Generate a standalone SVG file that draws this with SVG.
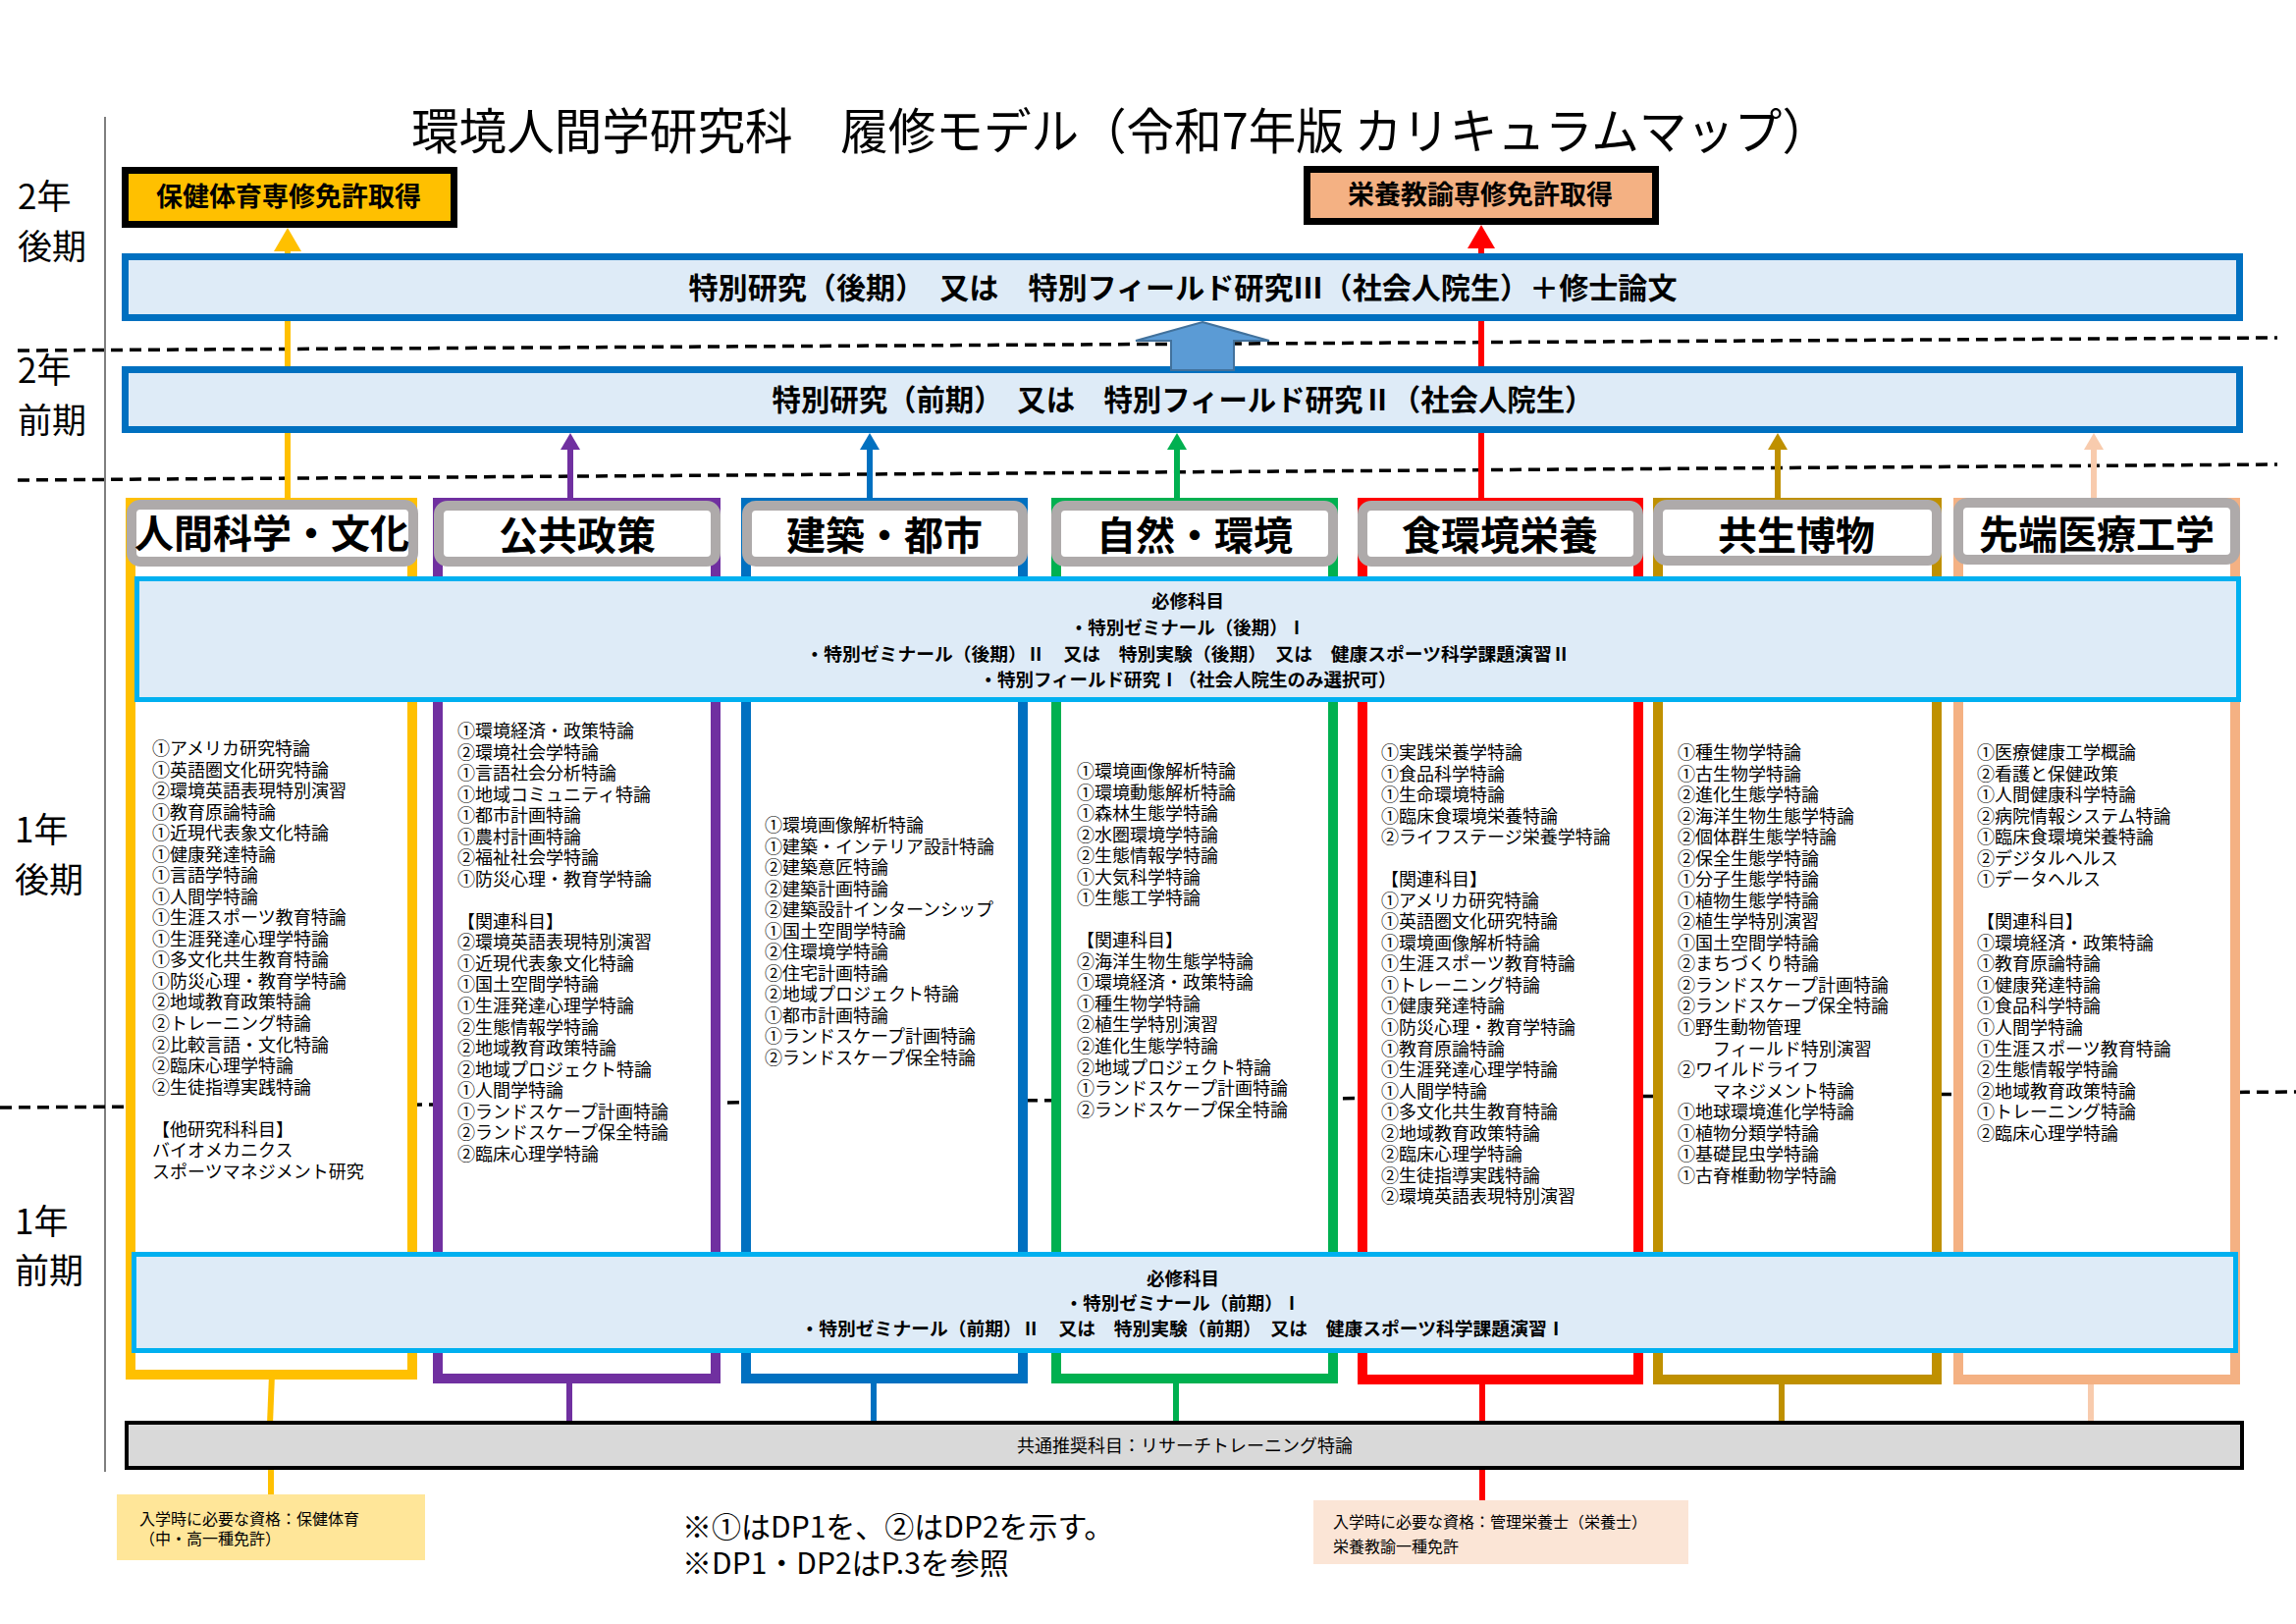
<svg xmlns="http://www.w3.org/2000/svg" width="2339" height="1654" viewBox="0 0 2339 1654">
<defs>
<style>
text{font-family:"Noto Sans CJK JP","Noto Sans CJK SC",sans-serif;fill:#000}
.col{font-size:18px}
.hdr{font-size:40px;font-weight:700;text-anchor:middle}
.bx{font-size:30px;font-weight:700;text-anchor:middle}
.lic{font-size:27px;font-weight:700;text-anchor:middle}
.req{font-size:18.5px;font-weight:700;text-anchor:middle}
.yr{font-size:35px}
.note{font-size:16px}
.dash{stroke:#000;stroke-width:3.5;stroke-dasharray:12 7;fill:none}
.colbox{fill:#fff;stroke-width:10}
.tab{fill:#fff;stroke:#AEAAAA;stroke-width:10}
.blue{fill:#DEEBF7;stroke:#0070C0;stroke-width:7}
.reqbox{fill:#DEEBF7;stroke:#00B0F0;stroke-width:5}
.ln{stroke-width:6;fill:none}
</style>
<path id="ahL" d="M0,0 L-14,24 L14,24 Z"/>
<path id="ahS" d="M0,0 L-10,17 L10,17 Z"/>
</defs>
<rect width="2339" height="1654" fill="#fff"/>

<g id="title">
<text x="419" y="152" font-size="50" textLength="1445" lengthAdjust="spacingAndGlyphs">環境人間学研究科　履修モデル（令和7年版 カリキュラムマップ）</text>
</g>

<g id="timeline">
<line x1="107" y1="119" x2="107" y2="1499" stroke="#7F7F7F" stroke-width="2"/>
<line class="dash" x1="18" y1="357" x2="2320" y2="344"/>
<line class="dash" x1="18" y1="489" x2="2320" y2="473"/>
<line class="dash" x1="0" y1="1128" x2="2339" y2="1112"/>
<text class="yr" x="18" y="213">2年</text>
<text class="yr" x="18" y="264">後期</text>
<text class="yr" x="18" y="390">2年</text>
<text class="yr" x="18" y="441">前期</text>
<text class="yr" x="15" y="858">1年</text>
<text class="yr" x="15" y="909">後期</text>
<text class="yr" x="15" y="1257">1年</text>
<text class="yr" x="15" y="1307">前期</text>
</g>

<g id="connectors">
<line class="ln" x1="293" y1="508" x2="293" y2="254" stroke="#FFC000"/>
<use href="#ahL" x="293" y="232" fill="#FFC000"/>
<line class="ln" x1="1509" y1="508" x2="1509" y2="252" stroke="#FF0000"/>
<use href="#ahL" x="1509" y="229" fill="#FF0000"/>
<line class="ln" x1="581" y1="510" x2="581" y2="455" stroke="#7030A0"/>
<use href="#ahS" x="581" y="441" fill="#7030A0"/>
<line class="ln" x1="886" y1="510" x2="886" y2="455" stroke="#0070C0"/>
<use href="#ahS" x="886" y="441" fill="#0070C0"/>
<line class="ln" x1="1199" y1="510" x2="1199" y2="455" stroke="#00B050"/>
<use href="#ahS" x="1199" y="441" fill="#00B050"/>
<line class="ln" x1="1811" y1="510" x2="1811" y2="455" stroke="#BF9000"/>
<use href="#ahS" x="1811" y="441" fill="#BF9000"/>
<line class="ln" x1="2133" y1="510" x2="2133" y2="455" stroke="#F8CBAD"/>
<use href="#ahS" x="2133" y="441" fill="#F8CBAD"/>
<line class="ln" x1="277" y1="1400" x2="275" y2="1450" stroke="#FFC000"/>
<line class="ln" x1="580" y1="1400" x2="580" y2="1450" stroke="#7030A0"/>
<line class="ln" x1="890" y1="1400" x2="890" y2="1450" stroke="#0070C0"/>
<line class="ln" x1="1198" y1="1400" x2="1198" y2="1450" stroke="#00B050"/>
<line class="ln" x1="1510" y1="1400" x2="1510" y2="1450" stroke="#FF0000"/>
<line class="ln" x1="1815" y1="1400" x2="1815" y2="1450" stroke="#BF9000"/>
<line class="ln" x1="2130" y1="1400" x2="2130" y2="1450" stroke="#F8CBAD"/>
<line class="ln" x1="276" y1="1495" x2="276" y2="1523" stroke="#FFC000"/>
<line class="ln" x1="1510" y1="1495" x2="1510" y2="1529" stroke="#FF0000"/>
</g>

<g id="lic-hpe">
<rect x="127.5" y="173.5" width="335" height="55" fill="#FFC000" stroke="#000" stroke-width="7"/>
<text class="lic" x="294" y="210">保健体育専修免許取得</text>
</g>
<g id="lic-nutr">
<rect x="1331.5" y="172.5" width="355" height="53" fill="#F4B183" stroke="#000" stroke-width="7"/>
<text class="lic" x="1508" y="208">栄養教諭専修免許取得</text>
</g>

<g id="research-late">
<rect class="blue" x="127.5" y="261.5" width="2154" height="62"/>
<text class="bx" x="1205" y="304" textLength="1007" lengthAdjust="spacingAndGlyphs">特別研究（後期）　又は　特別フィールド研究Ⅲ（社会人院生）＋修士論文</text>
</g>
<g id="research-early">
<rect class="blue" x="127.5" y="376.5" width="2154" height="61"/>
<text class="bx" x="1205" y="418" textLength="837" lengthAdjust="spacingAndGlyphs">特別研究（前期）　又は　特別フィールド研究Ⅱ（社会人院生）</text>
</g>
<g id="up-arrow">
<polygon points="1225,328 1293,347 1257,347 1257,377 1193,377 1193,347 1157,347" fill="#5B9BD5" stroke="#41719C" stroke-width="2"/>
</g>

<g id="col1">
<rect class="colbox" x="133" y="512" width="287" height="888" stroke="#FFC000"/>
<rect class="tab" x="134" y="514" width="287" height="58" rx="9"/>
<text class="hdr" x="277" y="558" font-size="36">人間科学・文化</text>
<text class="col" y="769"><tspan x="155">①アメリカ研究特論</tspan><tspan x="155" dy="21.54">①英語圏文化研究特論</tspan><tspan x="155" dy="21.54">②環境英語表現特別演習</tspan><tspan x="155" dy="21.54">①教育原論特論</tspan><tspan x="155" dy="21.54">①近現代表象文化特論</tspan><tspan x="155" dy="21.54">①健康発達特論</tspan><tspan x="155" dy="21.54">①言語学特論</tspan><tspan x="155" dy="21.54">①人間学特論</tspan><tspan x="155" dy="21.54">①生涯スポーツ教育特論</tspan><tspan x="155" dy="21.54">①生涯発達心理学特論</tspan><tspan x="155" dy="21.54">①多文化共生教育特論</tspan><tspan x="155" dy="21.54">①防災心理・教育学特論</tspan><tspan x="155" dy="21.54">②地域教育政策特論</tspan><tspan x="155" dy="21.54">②トレーニング特論</tspan><tspan x="155" dy="21.54">②比較言語・文化特論</tspan><tspan x="155" dy="21.54">②臨床心理学特論</tspan><tspan x="155" dy="21.54">②生徒指導実践特論</tspan><tspan x="155" dy="43.08">【他研究科科目】</tspan><tspan x="155" dy="21.54">バイオメカニクス</tspan><tspan x="155" dy="21.54">スポーツマネジメント研究</tspan></text>
</g>

<g id="col2">
<rect class="colbox" x="446" y="512" width="283" height="892" stroke="#7030A0"/>
<rect class="tab" x="447" y="515" width="282" height="57" rx="9"/>
<text class="hdr" x="588" y="560">公共政策</text>
<text class="col" y="751"><tspan x="466">①環境経済・政策特論</tspan><tspan x="466" dy="21.54">②環境社会学特論</tspan><tspan x="466" dy="21.54">①言語社会分析特論</tspan><tspan x="466" dy="21.54">①地域コミュニティ特論</tspan><tspan x="466" dy="21.54">①都市計画特論</tspan><tspan x="466" dy="21.54">①農村計画特論</tspan><tspan x="466" dy="21.54">②福祉社会学特論</tspan><tspan x="466" dy="21.54">①防災心理・教育学特論</tspan><tspan x="466" dy="43.08">【関連科目】</tspan><tspan x="466" dy="21.54">②環境英語表現特別演習</tspan><tspan x="466" dy="21.54">①近現代表象文化特論</tspan><tspan x="466" dy="21.54">①国土空間学特論</tspan><tspan x="466" dy="21.54">①生涯発達心理学特論</tspan><tspan x="466" dy="21.54">②生態情報学特論</tspan><tspan x="466" dy="21.54">②地域教育政策特論</tspan><tspan x="466" dy="21.54">②地域プロジェクト特論</tspan><tspan x="466" dy="21.54">①人間学特論</tspan><tspan x="466" dy="21.54">①ランドスケープ計画特論</tspan><tspan x="466" dy="21.54">②ランドスケープ保全特論</tspan><tspan x="466" dy="21.54">②臨床心理学特論</tspan></text>
</g>

<g id="col3">
<rect class="colbox" x="760" y="512" width="282" height="892" stroke="#0070C0"/>
<rect class="tab" x="761" y="515" width="281" height="57" rx="9"/>
<text class="hdr" x="901" y="560">建築・都市</text>
<text class="col" y="847"><tspan x="779">①環境画像解析特論</tspan><tspan x="779" dy="21.54">①建築・インテリア設計特論</tspan><tspan x="779" dy="21.54">②建築意匠特論</tspan><tspan x="779" dy="21.54">②建築計画特論</tspan><tspan x="779" dy="21.54">②建築設計インターンシップ</tspan><tspan x="779" dy="21.54">①国土空間学特論</tspan><tspan x="779" dy="21.54">②住環境学特論</tspan><tspan x="779" dy="21.54">②住宅計画特論</tspan><tspan x="779" dy="21.54">②地域プロジェクト特論</tspan><tspan x="779" dy="21.54">①都市計画特論</tspan><tspan x="779" dy="21.54">①ランドスケープ計画特論</tspan><tspan x="779" dy="21.54">②ランドスケープ保全特論</tspan></text>
</g>

<g id="col4">
<rect class="colbox" x="1076" y="512" width="282" height="892" stroke="#00B050"/>
<rect class="tab" x="1076" y="515" width="282" height="57" rx="9"/>
<text class="hdr" x="1217" y="560">自然・環境</text>
<text class="col" y="792"><tspan x="1097">①環境画像解析特論</tspan><tspan x="1097" dy="21.54">①環境動態解析特論</tspan><tspan x="1097" dy="21.54">①森林生態学特論</tspan><tspan x="1097" dy="21.54">②水圏環境学特論</tspan><tspan x="1097" dy="21.54">②生態情報学特論</tspan><tspan x="1097" dy="21.54">①大気科学特論</tspan><tspan x="1097" dy="21.54">①生態工学特論</tspan><tspan x="1097" dy="43.08">【関連科目】</tspan><tspan x="1097" dy="21.54">②海洋生物生態学特論</tspan><tspan x="1097" dy="21.54">①環境経済・政策特論</tspan><tspan x="1097" dy="21.54">①種生物学特論</tspan><tspan x="1097" dy="21.54">②植生学特別演習</tspan><tspan x="1097" dy="21.54">②進化生態学特論</tspan><tspan x="1097" dy="21.54">②地域プロジェクト特論</tspan><tspan x="1097" dy="21.54">①ランドスケープ計画特論</tspan><tspan x="1097" dy="21.54">②ランドスケープ保全特論</tspan></text>
</g>

<g id="col5">
<rect class="colbox" x="1388" y="512" width="281" height="893" stroke="#FF0000"/>
<rect class="tab" x="1388" y="515" width="281" height="57" rx="9"/>
<text class="hdr" x="1528" y="560">食環境栄養</text>
<text class="col" y="773"><tspan x="1407">①実践栄養学特論</tspan><tspan x="1407" dy="21.54">①食品科学特論</tspan><tspan x="1407" dy="21.54">①生命環境特論</tspan><tspan x="1407" dy="21.54">①臨床食環境栄養特論</tspan><tspan x="1407" dy="21.54">②ライフステージ栄養学特論</tspan><tspan x="1407" dy="43.08">【関連科目】</tspan><tspan x="1407" dy="21.54">①アメリカ研究特論</tspan><tspan x="1407" dy="21.54">①英語圏文化研究特論</tspan><tspan x="1407" dy="21.54">①環境画像解析特論</tspan><tspan x="1407" dy="21.54">①生涯スポーツ教育特論</tspan><tspan x="1407" dy="21.54">①トレーニング特論</tspan><tspan x="1407" dy="21.54">①健康発達特論</tspan><tspan x="1407" dy="21.54">①防災心理・教育学特論</tspan><tspan x="1407" dy="21.54">①教育原論特論</tspan><tspan x="1407" dy="21.54">①生涯発達心理学特論</tspan><tspan x="1407" dy="21.54">①人間学特論</tspan><tspan x="1407" dy="21.54">①多文化共生教育特論</tspan><tspan x="1407" dy="21.54">②地域教育政策特論</tspan><tspan x="1407" dy="21.54">②臨床心理学特論</tspan><tspan x="1407" dy="21.54">②生徒指導実践特論</tspan><tspan x="1407" dy="21.54">②環境英語表現特別演習</tspan></text>
</g>

<g id="col6">
<rect class="colbox" x="1689" y="512" width="284" height="893" stroke="#BF9000"/>
<rect class="tab" x="1689" y="514" width="284" height="57" rx="9"/>
<text class="hdr" x="1830" y="560">共生博物</text>
<text class="col" y="773"><tspan x="1709">①種生物学特論</tspan><tspan x="1709" dy="21.54">①古生物学特論</tspan><tspan x="1709" dy="21.54">②進化生態学特論</tspan><tspan x="1709" dy="21.54">②海洋生物生態学特論</tspan><tspan x="1709" dy="21.54">②個体群生態学特論</tspan><tspan x="1709" dy="21.54">②保全生態学特論</tspan><tspan x="1709" dy="21.54">①分子生態学特論</tspan><tspan x="1709" dy="21.54">①植物生態学特論</tspan><tspan x="1709" dy="21.54">②植生学特別演習</tspan><tspan x="1709" dy="21.54">①国土空間学特論</tspan><tspan x="1709" dy="21.54">②まちづくり特論</tspan><tspan x="1709" dy="21.54">②ランドスケープ計画特論</tspan><tspan x="1709" dy="21.54">②ランドスケープ保全特論</tspan><tspan x="1709" dy="21.54">①野生動物管理</tspan><tspan x="1745" dy="21.54">フィールド特別演習</tspan><tspan x="1709" dy="21.54">②ワイルドライフ</tspan><tspan x="1745" dy="21.54">マネジメント特論</tspan><tspan x="1709" dy="21.54">①地球環境進化学特論</tspan><tspan x="1709" dy="21.54">①植物分類学特論</tspan><tspan x="1709" dy="21.54">①基礎昆虫学特論</tspan><tspan x="1709" dy="21.54">①古脊椎動物学特論</tspan></text>
</g>

<g id="col7">
<rect class="colbox" x="1995" y="512" width="282" height="893" stroke="#F4B183"/>
<rect class="tab" x="1995" y="512" width="282" height="58" rx="9"/>
<text class="hdr" x="2136" y="559">先端医療工学</text>
<text class="col" y="773"><tspan x="2014">①医療健康工学概論</tspan><tspan x="2014" dy="21.54">②看護と保健政策</tspan><tspan x="2014" dy="21.54">①人間健康科学特論</tspan><tspan x="2014" dy="21.54">②病院情報システム特論</tspan><tspan x="2014" dy="21.54">①臨床食環境栄養特論</tspan><tspan x="2014" dy="21.54">②デジタルヘルス</tspan><tspan x="2014" dy="21.54">①データヘルス</tspan><tspan x="2014" dy="43.08">【関連科目】</tspan><tspan x="2014" dy="21.54">①環境経済・政策特論</tspan><tspan x="2014" dy="21.54">①教育原論特論</tspan><tspan x="2014" dy="21.54">①健康発達特論</tspan><tspan x="2014" dy="21.54">①食品科学特論</tspan><tspan x="2014" dy="21.54">①人間学特論</tspan><tspan x="2014" dy="21.54">①生涯スポーツ教育特論</tspan><tspan x="2014" dy="21.54">②生態情報学特論</tspan><tspan x="2014" dy="21.54">②地域教育政策特論</tspan><tspan x="2014" dy="21.54">①トレーニング特論</tspan><tspan x="2014" dy="21.54">②臨床心理学特論</tspan></text>
</g>

<g id="required-late">
<rect class="reqbox" x="139.5" y="589.5" width="2141" height="123"/>
<text class="req" x="1210" y="619">必修科目</text>
<text class="req" x="1210" y="646">・特別ゼミナール（後期）Ⅰ</text>
<text class="req" x="1210" y="673" textLength="779" lengthAdjust="spacingAndGlyphs">・特別ゼミナール（後期）Ⅱ　又は　特別実験（後期）　又は　健康スポーツ科学課題演習Ⅱ</text>
<text class="req" x="1210" y="699">・特別フィールド研究Ⅰ（社会人院生のみ選択可）</text>
</g>

<g id="required-early">
<rect class="reqbox" x="136.5" y="1277.5" width="2141" height="98"/>
<text class="req" x="1205" y="1309">必修科目</text>
<text class="req" x="1205" y="1334">・特別ゼミナール（前期）Ⅰ</text>
<text class="req" x="1205" y="1360" textLength="779" lengthAdjust="spacingAndGlyphs">・特別ゼミナール（前期）Ⅱ　又は　特別実験（前期）　又は　健康スポーツ科学課題演習Ⅰ</text>
</g>

<g id="common">
<rect x="129" y="1449" width="2155" height="46" fill="#D9D9D9" stroke="#000" stroke-width="4"/>
<text x="1207" y="1479" font-size="18" text-anchor="middle">共通推奨科目：リサーチトレーニング特論</text>
</g>

<g id="entry-hpe">
<rect x="119" y="1522" width="314" height="67" fill="#FFE699"/>
<text class="note" x="142" y="1553">入学時に必要な資格：保健体育</text>
<text class="note" x="142" y="1573">（中・高一種免許）</text>
</g>
<g id="entry-nutr">
<rect x="1338" y="1528" width="382" height="65" fill="#FBE5D6"/>
<text class="note" x="1358" y="1556">入学時に必要な資格：管理栄養士（栄養士）</text>
<text class="note" x="1358" y="1581">栄養教諭一種免許</text>
</g>

<g id="legend">
<text x="695" y="1566" font-size="30">※①はDP1を、②はDP2を示す。</text>
<text x="695" y="1603" font-size="30">※DP1・DP2はP.3を参照</text>
</g>
</svg>
